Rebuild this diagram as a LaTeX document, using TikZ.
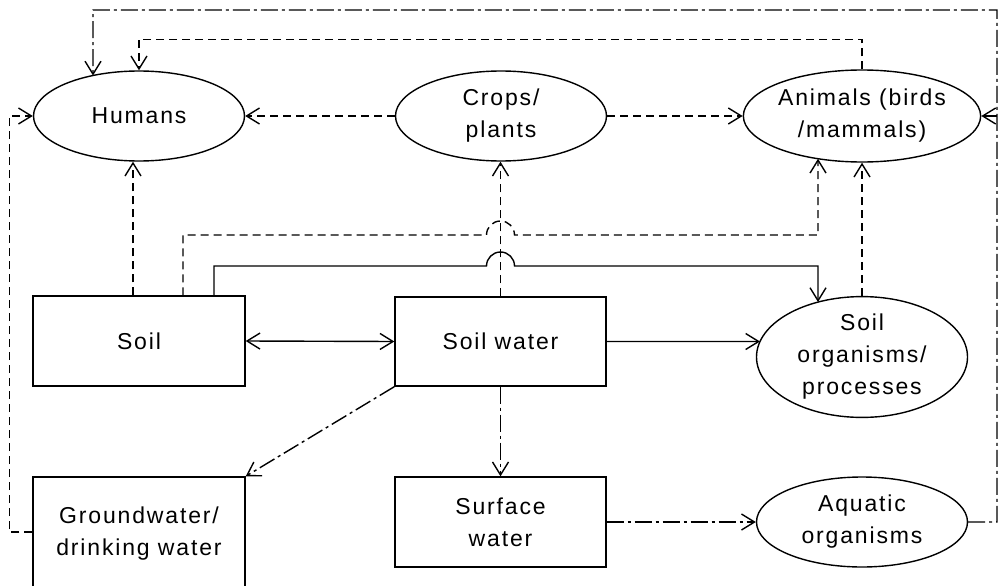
\documentclass[tikz,border=0pt]{standalone}
\usepackage{fontspec}
\setmainfont{Liberation Sans}[LetterSpace=8]
\usetikzlibrary{shapes.geometric,arrows.meta,intersections,calc}
\begin{document}
\begin{tikzpicture}[x=1pt,y=-1pt,
  every node/.style={font=\fontsize{23}{32}\selectfont, align=center, inner sep=0pt, line width=1.4pt},
  ell/.style={draw, ellipse, minimum width=211pt, minimum height=90pt},
  box/.style={draw, rectangle, minimum width=211pt, minimum height=89pt},
  ln/.style={line width=1.4pt},
  tip/.style={-{Straight Barb[length=13pt,width=16pt]}},
  bitip/.style={{Straight Barb[length=13pt,width=16pt]}-{Straight Barb[length=13pt,width=16pt]}},
  dsh/.style={ln, dash pattern=on 8pt off 5pt},
  ddot/.style={ln, dash pattern=on 17pt off 4pt on 3pt off 4pt},
]
\useasboundingbox (0,0) rectangle (1001,586);
\clip (0,0) rectangle (1001,586);

% nodes
\node[ell, name path=huP] (humans) at (139,116) {Humans};
\node[ell] (crops) at (501,116) {Crops/\\plants};
\node[ell, name path=anP, minimum height=92pt] (animals) at (862,116) {Animals (birds\\/mammals)};
\node[box, minimum width=212pt, minimum height=90pt] (soil) at (139,341) {Soil};
\node[box] (soilwater) at (500.5,341.5) {Soil water};
\node[ell, name path=soP, minimum height=120pt] (soilorg) at (862,357) {Soil\\organisms/\\processes};
\node[box, minimum width=212pt, minimum height=114pt] (gw) at (139,534) {Groundwater/\\drinking water};
\node[box, minimum height=90pt] (surface) at (500.5,522) {Surface\\water};
\node[ell] (aquatic) at (862,522) {Aquatic\\organisms};

% helper coordinates
\coordinate (rtop) at (997,10);
\coordinate (ltop) at (93,10);
\coordinate (kA) at (818,235);
\coordinate (kB) at (818,266);
\coordinate (cA) at (soilwater.north |- kA);
\coordinate (cB) at (soilwater.north |- kB);
\coordinate (bA) at ([xshift=-14pt]cA);
\coordinate (bB) at ([xshift=-14pt]cB);
\coordinate (sA) at ([xshift=44pt]soil.north);
\coordinate (sB) at ([xshift=75pt]soil.north);

\path[name path=vH] (ltop) -- (93,116);
\path[name path=vA] (kA) -- (818,100);
\path[name path=vB] (kB) -- (818,360);
\path[name path=hS] (soilwater.east) -- ++(200,0);
\path[name intersections={of=vH and huP, by=huIn}];
\path[name intersections={of=vA and anP, by=anIn}];
\path[name intersections={of=vB and soP, by=soIn}];
\path[name intersections={of=hS and soP, by=swIn}];

% solid connectors
\draw[ln, bitip] (soil.east) -- (soilwater.west);
\draw[ln, tip] (soilwater.east) -- (swIn);
\draw[ln, tip] (sB) |- (bB) arc[start angle=180, end angle=360, radius=14] -- (kB) -- (soIn);

% dashed connectors
\draw[dsh, tip] (soilwater.north) -- (soilwater.north |- crops.south);
\draw[dsh, tip] ([xshift=-6pt]soil.north) -- ([xshift=-6pt]soil.north |- humans.south);
\draw[dsh, tip] (sA) |- (bA) arc[start angle=180, end angle=360, radius=14] -- (kA) -- (anIn);
\draw[dsh, tip] (soilorg.north) -- (animals.south);
\draw[dsh, tip] (crops.west) -- (humans.east);
\draw[dsh, tip] (crops.east) -- (animals.west);
\draw[dsh, tip] (animals.north) -- ++(0,-30) -| (humans.north);
\draw[dsh, tip] ([yshift=2pt]gw.west) -- ++(-23,0) |- (humans.west);

% dash-dot connectors
\draw[ddot, tip] (soilwater.south west) -- (gw.north east);
\draw[ddot, tip] (soilwater.south) -- (soilwater.south |- surface.north);
\draw[ddot, tip] (surface.east) -- (aquatic.west);
\draw[ddot, tip] (aquatic.east) -- (aquatic.east -| rtop) -- (rtop) -- (ltop) -- (huIn);
\draw[ln, tip] (animals.east -| rtop) -- (animals.east);
\end{tikzpicture}
\end{document}
